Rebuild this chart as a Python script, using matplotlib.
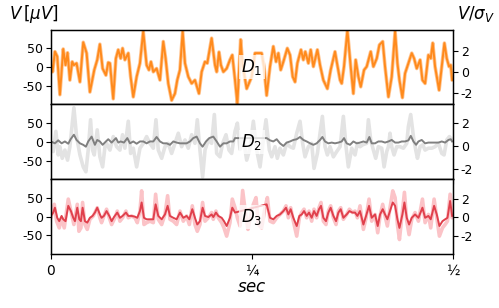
import matplotlib
matplotlib.use("Agg")
import matplotlib.pyplot as plt
import numpy as np

# ---------------- data (time in s, voltage in uV) ----------------
t1 = [0.0000,0.0021,0.0050,0.0079,0.0112,0.0153,0.0182,0.0207,0.0236,0.0265,0.0286,0.0319,0.0361,0.0402,0.0444,0.0485,
      0.0539,0.0576,0.0609,0.0643,0.0684,0.0713,0.0734,0.0775,0.0808,0.0837,0.0867,0.0891,0.0920,0.0962,0.0991,0.1024,
      0.1066,0.1107,0.1148,0.1190,0.1219,0.1244,0.1273,0.1314,0.1356,0.1397,0.1426,0.1459,0.1501,0.1542,0.1571,0.1604,
      0.1638,0.1667,0.1708,0.1750,0.1791,0.1841,0.1874,0.1915,0.1944,0.1998,0.2040,0.2061,0.2090,0.2114,0.2144,0.2185,
      0.2226,0.2255,0.2289,0.2318,0.2359,0.2384,0.2434,0.2496,0.2537,0.2579,0.2620,0.2649,0.2682,0.2724,0.2765,0.2799,
      0.2828,0.2857,0.2890,0.2939,0.2973,0.3006,0.3035,0.3064,0.3109,0.3138,0.3163,0.3201,0.3230,0.3263,0.3313,0.3346,
      0.3387,0.3437,0.3478,0.3532,0.3561,0.3595,0.3615,0.3644,0.3686,0.3727,0.3760,0.3789,0.3823,0.3852,0.3893,0.3926,
      0.3976,0.4009,0.4051,0.4084,0.4125,0.4154,0.4196,0.4237,0.4279,0.4308,0.4333,0.4370,0.4403,0.4444,0.4486,0.4515,
      0.4548,0.4590,0.4619,0.4652,0.4693,0.4722,0.4747,0.4776,0.4826,0.4859,0.4892,0.4921,0.4950,0.4971,0.4988]
v1 = [10,-13,41,28,-74,48,5,38,-35,14,5,10,-40,66,37,-67,
      -8,19,61,-4,-22,12,10,-85,23,46,23,50,19,37,-26,-80,
      -26,10,95,5,-8,14,-13,-4,-35,68,23,-44,-89,-71,-35,-8,
      95,10,-26,-44,-35,-71,-13,14,10,77,5,-13,40,5,-13,-4,
      19,32,-35,-98,73,5,-58,-26,37,37,37,1,-76,1,55,14,
      37,-8,14,50,32,-26,-40,10,46,19,41,10,46,1,46,5,
      -35,-58,-8,41,5,-35,-44,1,98,1,-71,19,-26,-53,-8,1,
      41,1,23,59,68,1,-80,-26,95,10,-35,-82,-17,10,37,23,
      -4,19,-35,-44,32,23,64,1,-62,1,64,23,1,5,-35]

t2_raw = [0.0000,0.0029,0.0062,0.0091,0.0112,0.0141,0.0174,0.0207,0.0236,0.0286,0.0319,0.0361,0.0402,0.0435,0.0464,0.0493,
          0.0518,0.0539,0.0576,0.0609,0.0643,0.0672,0.0692,0.0734,0.0775,0.0817,0.0858,0.0891,0.0920,0.0962,0.0991,0.1024,
          0.1066,0.1107,0.1149,0.1190,0.1231,0.1273,0.1306,0.1335,0.1377,0.1418,0.1459,0.1501,0.1542,0.1584,0.1625,0.1667,
          0.1708,0.1750,0.1791,0.1820,0.1853,0.1886,0.1916,0.1957,0.1998,0.2032,0.2061,0.2102,0.2135,0.2177,0.2214,0.2247,
          0.2289,0.2318,0.2351,0.2392,0.2434,0.2475,0.2517,0.2558,0.2600,0.2641,0.2674,0.2716,0.2745,0.2786,0.2815,0.2848,
          0.2890,0.2931,0.2973,0.3014,0.3056,0.3097,0.3130,0.3159,0.3201,0.3242,0.3271,0.3313,0.3346,0.3375,0.3408,0.3437,
          0.3470,0.3512,0.3553,0.3595,0.3636,0.3669,0.3698,0.3740,0.3781,0.3810,0.3843,0.3876,0.3926,0.3947,0.3976,0.4009,
          0.4038,0.4071,0.4113,0.4142,0.4175,0.4196,0.4216,0.4237,0.4266,0.4299,0.4341,0.4382,0.4424,0.4444,0.4473,0.4507,
          0.4536,0.4557,0.4590,0.4623,0.4652,0.4693,0.4735,0.4776,0.4818,0.4859,0.4888,0.4921,0.4954,0.4988]
v2_raw = [-4,-26,28,-35,-13,-44,-22,-49,-13,91,14,-35,-67,-80,-22,59,
          -22,-35,32,-40,-67,-13,-4,-22,14,-13,-22,19,-17,55,-31,-17,
          -67,-17,-4,14,-4,-17,59,-22,-44,-13,-4,-31,-4,23,-13,5,
          -17,19,-4,59,-22,-94,-22,5,-4,73,-31,-40,-4,19,-22,-31,
          28,50,-20,10,-49,-17,55,-22,-67,5,59,-22,-40,-13,-44,-17,
          -35,-4,-13,-17,23,55,-4,-40,-13,-4,-71,-31,23,68,-13,-35,
          -13,-40,-26,-13,68,-13,-67,-17,-35,-4,-13,-8,-4,59,5,-22,
          -44,-13,-17,-67,-26,-13,23,-13,-35,-13,-13,-17,-4,41,73,14,
          -22,-44,-13,-8,-22,-17,-17,-13,-4,-31,-35,5,14,5]

t2 = [0.0000,0.0050,0.0091,0.0133,0.0174,0.0216,0.0245,0.0286,0.0319,0.0361,0.0402,0.0435,0.0464,0.0506,0.0547,0.0576,
      0.0609,0.0643,0.0684,0.0713,0.0755,0.0809,0.0838,0.0867,0.0908,0.0950,0.0983,0.1024,0.1066,0.1107,0.1149,0.1190,
      0.1231,0.1273,0.1314,0.1356,0.1397,0.1439,0.1480,0.1522,0.1563,0.1605,0.1646,0.1687,0.1729,0.1770,0.1812,0.1853,
      0.1886,0.1928,0.1969,0.2019,0.2061,0.2102,0.2144,0.2185,0.2226,0.2268,0.2289,0.2682,0.2724,0.2765,0.2807,0.2848,
      0.2890,0.2931,0.2973,0.3014,0.3056,0.3097,0.3139,0.3180,0.3222,0.3263,0.3304,0.3346,0.3375,0.3408,0.3449,0.3491,
      0.3532,0.3574,0.3615,0.3644,0.3677,0.3719,0.3760,0.3802,0.3843,0.3885,0.3926,0.3959,0.3988,0.4030,0.4071,0.4113,
      0.4154,0.4196,0.4237,0.4279,0.4320,0.4362,0.4403,0.4445,0.4474,0.4507,0.4540,0.4569,0.4610,0.4652,0.4693,0.4735,
      0.4776,0.4818,0.4859,0.4901,0.4942,0.4971,0.4988]
v2 = [1,-4,4,-4,1,-5,7,19,5,-4,-8,-13,1,14,-8,5,
      1,-8,1,7,-2,10,-2,1,-2,10,-4,1,-5,1,1,-4,
      1,1,13,1,-4,-4,-8,1,-2,-4,-4,-4,1,10,14,-4,
      -13,1,10,14,1,-13,-4,-4,1,1,10,10,4,1,7,-4,
      -11,-2,1,5,7,13,5,1,-4,-8,-4,5,13,1,-4,-2,
      -4,-2,1,10,-4,-8,1,-4,-2,1,-2,13,-4,-4,1,1,
      -2,1,5,-2,-2,1,1,4,16,1,-8,1,5,-4,-2,-2,
      -2,-2,1,-2,5,7,1]

t3_raw = [0.0000,0.0042,0.0071,0.0104,0.0133,0.0166,0.0216,0.0249,0.0286,0.0328,0.0348,0.0373,0.0394,0.0423,0.0452,0.0485,
          0.0527,0.0576,0.0609,0.0630,0.0659,0.0692,0.0726,0.0755,0.0796,0.0825,0.0858,0.0891,0.0933,0.0962,0.1003,0.1045,
          0.1074,0.1107,0.1128,0.1157,0.1190,0.1231,0.1273,0.1302,0.1335,0.1377,0.1418,0.1451,0.1480,0.1522,0.1563,0.1605,
          0.1646,0.1687,0.1721,0.1758,0.1791,0.1820,0.1853,0.1886,0.1916,0.1957,0.1998,0.2019,0.2052,0.2081,0.2123,0.2152,
          0.2185,0.2226,0.2255,0.2289,0.2318,0.2351,0.2384,0.2413,0.2450,0.2467,0.2517,0.2550,0.2579,0.2620,0.2662,0.2691,
          0.2724,0.2765,0.2807,0.2848,0.2890,0.2923,0.2952,0.2981,0.3014,0.3056,0.3089,0.3118,0.3147,0.3180,0.3209,0.3242,
          0.3271,0.3304,0.3333,0.3358,0.3387,0.3420,0.3449,0.3478,0.3512,0.3545,0.3574,0.3603,0.3636,0.3677,0.3711,0.3748,
          0.3781,0.3810,0.3843,0.3885,0.3918,0.3955,0.3988,0.4030,0.4063,0.4092,0.4125,0.4154,0.4183,0.4216,0.4250,0.4279,
          0.4308,0.4333,0.4370,0.4395,0.4424,0.4453,0.4486,0.4527,0.4569,0.4619,0.4652,0.4693,0.4722,0.4764,0.4797,0.4830,
          0.4868,0.4901,0.4930,0.4963,0.4988]
v3_raw = [-3,33,-12,-30,-3,-30,47,15,-21,33,-39,-30,38,-21,-34,-7,
          2,24,-3,-16,2,20,-3,-21,-3,15,-12,-3,15,-3,2,-3,
          -16,15,69,-21,-16,-12,-16,60,-7,-21,6,56,-7,-12,-21,15,
          -12,2,-21,29,-21,-39,-21,38,-12,-3,11,-7,15,-3,-16,-30,
          -52,-16,47,24,-3,-25,70,20,-34,-12,33,51,-21,-30,24,51,
          -12,-16,-3,6,15,29,-3,24,-12,-52,-3,11,20,-3,15,-12,
          20,-3,24,38,-12,-21,15,29,-3,-21,15,24,-7,6,20,11,
          15,-3,29,-34,-3,47,-12,6,-43,2,33,2,-25,24,69,51,
          -21,-61,15,65,-12,-48,-7,11,-12,47,-16,6,-30,47,-3,-52,
          -30,-21,-12,60,-3]

t3 = [0.0000,0.0029,0.0050,0.0079,0.0104,0.0133,0.0153,0.0182,0.0216,0.0249,0.0278,0.0299,0.0328,0.0353,0.0373,0.0394,
      0.0423,0.0452,0.0485,0.0518,0.0547,0.0576,0.0609,0.0630,0.0659,0.0692,0.0726,0.0755,0.0784,0.0825,0.0858,0.0891,
      0.0933,0.0962,0.1003,0.1045,0.1074,0.1107,0.1128,0.1157,0.1190,0.1231,0.1273,0.1302,0.1335,0.1377,0.1418,0.1451,
      0.1480,0.1522,0.1563,0.1605,0.1646,0.1687,0.1721,0.1758,0.1791,0.1820,0.1853,0.1886,0.1916,0.1957,0.1998,0.2019,
      0.2052,0.2081,0.2123,0.2152,0.2185,0.2226,0.2255,0.2289,0.2682,0.2724,0.2765,0.2807,0.2848,0.2890,0.2923,0.2952,
      0.2981,0.3014,0.3056,0.3089,0.3118,0.3147,0.3180,0.3209,0.3242,0.3271,0.3304,0.3333,0.3358,0.3387,0.3420,0.3449,
      0.3478,0.3512,0.3545,0.3574,0.3603,0.3636,0.3677,0.3711,0.3748,0.3781,0.3810,0.3843,0.3885,0.3918,0.3955,0.3988,
      0.4030,0.4063,0.4092,0.4125,0.4154,0.4183,0.4216,0.4250,0.4279,0.4308,0.4333,0.4370,0.4395,0.4424,0.4453,0.4486,
      0.4527,0.4569,0.4619,0.4652,0.4693,0.4722,0.4764,0.4797,0.4830,0.4868,0.4901,0.4930,0.4963,0.4988]
v3 = [2,11,24,-3,-12,2,-7,-12,29,15,-3,-12,24,-7,-12,24,
      -12,-16,-3,2,11,24,6,-3,2,15,2,-12,-1,11,-3,2,
      11,2,2,0,-3,15,38,-3,-7,-7,-7,33,2,-7,6,29,
      2,-3,-7,11,-3,2,-7,20,-3,-21,-12,24,2,-1,6,-1,
      11,2,-3,-12,-25,-3,24,11,33,-3,-7,2,6,15,24,6,
      20,-3,-25,2,6,15,2,11,-3,15,2,20,29,-3,-12,11,
      24,2,-12,11,20,-3,6,15,11,11,2,15,-21,2,29,-3,
      6,-25,6,20,6,-7,15,38,29,-7,-30,6,38,-3,-21,-3,
      6,-3,24,-3,2,-7,29,6,-25,-12,-7,-3,42,2]

panel_labels = [r"$D_1$", r"$D_2$", r"$D_3$"]
xticks = [0, 0.25, 0.5]
xticklabels = ["0", "\u00bc", "\u00bd"]
left_ticks = [-50, 0, 50]
right_ticks = [-2, 0, 2]
right_lims = [(-3.14, 4.04), (-2.93, 3.63), (-3.9, 4.07)]

# ---------------- figure ----------------
fig = plt.figure(figsize=(4.99, 3.08), dpi=100)
axes = fig.subplots(3, 1, sharex=True)
fig.subplots_adjust(left=0.102, right=0.908, top=0.904, bottom=0.175, hspace=0)

series = [
    (t1, v1, t1, v1, "#ffc48f", "#ff8a1c"),
    (t2_raw, v2_raw, t2, v2, "#e3e3e3", "#808080"),
    (t3_raw, v3_raw, t3, v3, "#fbc3c7", "#e0404c"),
]

for i, (ax, (tr, vr, tc, vc, lc, dc)) in enumerate(zip(axes, series)):
    ax.plot(tr, vr, color=lc, lw=2.6, solid_joinstyle="round", solid_capstyle="round", zorder=1)
    ax.plot(tc, vc, color=dc, lw=1.4, solid_joinstyle="round", zorder=2)
    ax.set_xlim(0, 0.5)
    ax.set_ylim(-100, 100)
    ax.set_yticks(left_ticks)
    ax.set_yticklabels([str(v) for v in left_ticks], fontsize=9)
    ax.tick_params(axis="y", length=3.5, width=0.8, pad=2)
    ax.tick_params(axis="x", length=3.5, width=0.8)
    ax.text(0.25, 0, panel_labels[i], ha="center", va="center", fontsize=12,
            bbox=dict(facecolor="white", edgecolor="none", alpha=0.75, pad=1.5), zorder=5)
    for s in ax.spines.values():
        s.set_linewidth(1.0)
    axr = ax.twinx()
    axr.set_ylim(*right_lims[i])
    axr.set_yticks(right_ticks)
    axr.set_yticklabels([str(v) for v in right_ticks], fontsize=9)
    axr.tick_params(axis="y", length=3.5, width=0.8, pad=2)

axes[-1].set_xticks(xticks)
axes[-1].set_xticklabels(xticklabels, fontsize=10)
axes[-1].set_xlabel(r"$sec$", fontsize=12, labelpad=0)

fig.text(0.018, 0.955, r"$V\,[\mu V]$", fontsize=12, ha="left", va="center")
fig.text(0.993, 0.955, r"$V/\sigma_V$", fontsize=12, ha="right", va="center")

fig.savefig("out.png", dpi=100)
